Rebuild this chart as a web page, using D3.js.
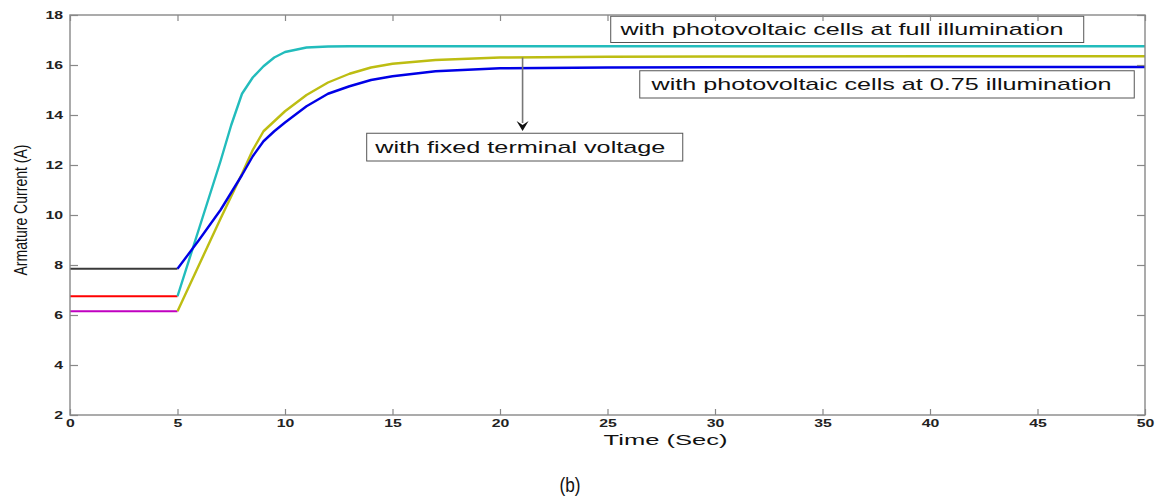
<!DOCTYPE html>
<html>
<head>
<meta charset="utf-8">
<script src="https://cdn.jsdelivr.net/npm/d3@7"></script>
<style>
  body { margin: 0; background: #fff; }
  svg { display: block; font-family: "Liberation Sans", Arial, sans-serif; }
</style>
</head>
<body>
<div id="chart"></div>
<script>
// time before the switch (0..5 s), one flat level per case
const tPre = [0, 5];
const preFixed = [7.85, 7.85];     // black
const preFull = [6.75, 6.75];      // red
const prePartial = [6.15, 6.15];   // magenta

// time after the switch
const tPost = [5, 6, 7, 7.5, 8, 8.5, 9, 9.5, 10, 11, 12, 13, 14, 15, 17, 20, 25, 30, 40, 50];
const postFull = [6.75, 9.45, 12.15, 13.6, 14.85, 15.5, 15.95, 16.3, 16.52, 16.7, 16.74, 16.75, 16.75, 16.75, 16.75, 16.75, 16.75, 16.75, 16.75, 16.75];
const postPartial = [6.15, 8.0, 9.85, 10.75, 11.65, 12.6, 13.35, 13.75, 14.15, 14.8, 15.3, 15.65, 15.9, 16.05, 16.2, 16.3, 16.33, 16.34, 16.35, 16.35];
const postFixed = [7.85, 9.0, 10.2, 10.9, 11.6, 12.35, 12.95, 13.35, 13.7, 14.35, 14.85, 15.15, 15.4, 15.55, 15.75, 15.87, 15.9, 15.91, 15.92, 15.92];

const xTicks = [0, 5, 10, 15, 20, 25, 30, 35, 40, 45, 50];
const yTicks = [2, 4, 6, 8, 10, 12, 14, 16, 18];

const labels = ["with photovoltaic cells at full illumination",
                "with photovoltaic cells at 0.75 illumination",
                "with fixed terminal voltage"];

const W = 1157, H = 497;
const m = {top: 15, right: 12, bottom: 82, left: 70},
    w = W - m.left - m.right,
    h = H - m.top - m.bottom;

const svg = d3.select("#chart").append("svg")
    .attr("width", W).attr("height", H);
const g = svg.append("g").attr("transform", `translate(${m.left},${m.top})`);

const x = d3.scaleLinear().domain([0, 50]).range([0, w]);
const y = d3.scaleLinear().domain([2, 18]).range([h, 0]);

const line = d3.line().x(d => x(d[0])).y(d => y(d[1]));
const zip = (ts, vs) => ts.map((t, i) => [t, vs[i]]);

// flat parts
const pre = [
  {vals: preFixed, color: "#3a3a3a"},
  {vals: preFull, color: "#ff0000"},
  {vals: prePartial, color: "#c000c0"}
];
pre.forEach(s => {
  g.append("path").datum(zip(tPre, s.vals))
    .attr("d", line).attr("fill", "none")
    .attr("stroke", s.color).attr("stroke-width", 1.8);
});

// responses
const post = [
  {vals: postFull, color: "#22bcbc"},
  {vals: postPartial, color: "#bdbd12"},
  {vals: postFixed, color: "#0000e6"}
];
post.forEach(s => {
  g.append("path").datum(zip(tPost, s.vals))
    .attr("d", line).attr("fill", "none")
    .attr("stroke", s.color).attr("stroke-width", 2.4)
    .attr("stroke-linejoin", "round");
});

// annotation boxes (data units)
const boxes = [
  {x0: 25.15, x1: 47.15, y0: 17.95, y1: 16.9, tx: 25.6, tl: 443},
  {x0: 26.5, x1: 49.5, y0: 15.77, y1: 14.68, tx: 27.05, tl: 460},
  {x0: 13.8, x1: 28.5, y0: 13.27, y1: 12.16, tx: 14.2, tl: 290}
];
boxes.forEach((b, i) => {
  g.append("rect")
    .attr("x", x(b.x0)).attr("y", y(b.y0))
    .attr("width", x(b.x1) - x(b.x0)).attr("height", y(b.y1) - y(b.y0))
    .attr("fill", "#fff").attr("stroke", "#555").attr("stroke-width", 1);
  g.append("text")
    .attr("x", x(b.tx)).attr("y", (y(b.y0) + y(b.y1)) / 2 + 6)
    .attr("textLength", b.tl).attr("lengthAdjust", "spacingAndGlyphs")
    .style("font-size", "17px").attr("fill", "#111")
    .text(labels[i]);
});

// arrow from the curves down to the fixed-voltage label
const ax = 21.05;
g.append("line")
  .attr("x1", x(ax)).attr("x2", x(ax))
  .attr("y1", y(16.3)).attr("y2", y(13.36) - 8)
  .attr("stroke", "#777").attr("stroke-width", 1.6);
const tip = y(13.36);
g.append("path")
  .attr("d", `M${x(ax) - 6},${tip - 10} L${x(ax)},${tip - 6} L${x(ax) + 6},${tip - 10} L${x(ax)},${tip} Z`)
  .attr("fill", "#111");

// axes, matlab style: box with inward ticks on all sides
const axisColor = "#888";
g.append("rect").attr("width", w).attr("height", h)
  .attr("fill", "none").attr("stroke", axisColor).attr("stroke-width", 1.4);

const xb = g.append("g").attr("transform", `translate(0,${h})`)
  .call(d3.axisBottom(x).tickValues(xTicks).tickSize(-6).tickFormat(d3.format("d")));
const xt = g.append("g")
  .call(d3.axisTop(x).tickValues(xTicks).tickSize(-6).tickFormat(""));
const yl = g.append("g")
  .call(d3.axisLeft(y).tickValues(yTicks).tickSize(-8).tickPadding(7).tickFormat(d3.format("d")));
const yr = g.append("g").attr("transform", `translate(${w},0)`)
  .call(d3.axisRight(y).tickValues(yTicks).tickSize(-8).tickFormat(""));

[xb, xt, yl, yr].forEach(a => {
  a.select(".domain").remove();
  a.selectAll(".tick line").attr("stroke", axisColor).attr("stroke-width", 1.2);
});
[xb, yl].forEach(a => {
  a.selectAll(".tick text")
    .attr("fill", "#222")
    .style("font-size", "11px").style("font-weight", "bold")
    .attr("textLength", d => String(d).length * 8.8)
    .attr("lengthAdjust", "spacingAndGlyphs");
});
xb.selectAll(".tick text").attr("y", 12).attr("dy", null);
yl.selectAll(".tick text").attr("dy", "0.36em");

// axis titles
svg.append("text")
  .attr("x", m.left + x(27.7)).attr("y", 445)
  .attr("text-anchor", "middle")
  .attr("textLength", 124).attr("lengthAdjust", "spacingAndGlyphs")
  .style("font-size", "15px").attr("fill", "#111")
  .text("Time (Sec)");

svg.append("text")
  .attr("transform", `translate(27,${m.top + y(10.2)}) rotate(-90)`)
  .attr("text-anchor", "middle")
  .attr("textLength", 131).attr("lengthAdjust", "spacingAndGlyphs")
  .style("font-size", "19px").attr("fill", "#111")
  .text("Armature Current (A)");

svg.append("text")
  .attr("x", 570).attr("y", 492)
  .attr("text-anchor", "middle")
  .attr("textLength", 21).attr("lengthAdjust", "spacingAndGlyphs")
  .style("font-size", "20px").attr("fill", "#111")
  .text("(b)");
</script>
</body>
</html>
